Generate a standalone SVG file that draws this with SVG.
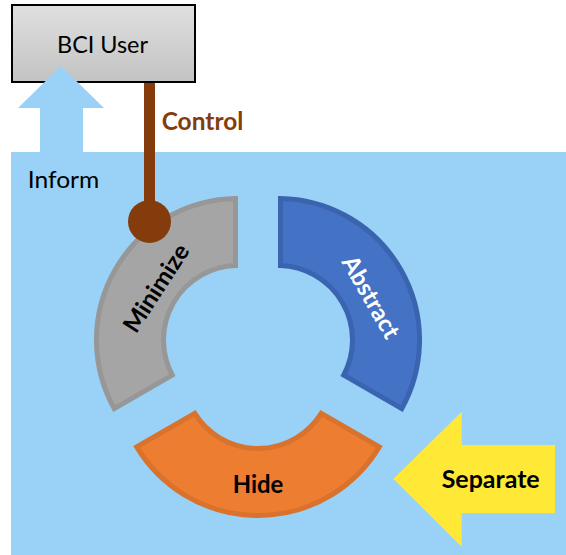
<svg xmlns="http://www.w3.org/2000/svg" width="566" height="555" viewBox="0 0 566 555">
<defs>
<linearGradient id="boxg" x1="0" y1="0" x2="0" y2="1">
<stop offset="0" stop-color="#e0e0e0"/>
<stop offset="1" stop-color="#c3c3c3"/>
</linearGradient>
<style>
.t{font-family:Lato,"Open Sans","Liberation Sans",sans-serif;font-size:24px;}
.b{font-weight:bold;}
.seg{stroke-width:5;stroke-linejoin:miter;}
</style>
</defs>
<rect id="panel" x="11" y="152" width="555" height="403" fill="#99d1f7"/>
<g id="bci-user">
<rect x="12" y="5" width="183" height="77" fill="url(#boxg)" stroke="#000" stroke-width="2"/>
<text class="t" x="57" y="52.7" textLength="91" lengthAdjust="spacingAndGlyphs" fill="#000">BCI User</text>
</g>
<g id="inform">
<polygon points="61,66 104,108 83,108 83,153 40,153 40,108 18,108" fill="#99d1f7"/>
<text class="t" x="27.7" y="187.7" textLength="71.6" lengthAdjust="spacingAndGlyphs" fill="#000">Inform</text>
</g>
<g id="minimize">
<path class="seg" d="M235.5,198.5 A141.5,141.5 0 0 0 114.23,408.58 L172.27,375.06 A74.5,74.5 0 0 1 235.5,265.54 Z" fill="#a5a5a5" stroke="#979797"/>
<g transform="translate(156,288) rotate(-57)">
<text class="t b" x="0" y="8.5" text-anchor="middle" textLength="100" lengthAdjust="spacingAndGlyphs" fill="#000">Minimize</text>
</g>
</g>
<g id="abstract">
<path class="seg" d="M280.5,198.5 A141.5,141.5 0 0 1 401.77,408.58 L343.73,375.06 A74.5,74.5 0 0 0 280.5,265.54 Z" fill="#4472c4" stroke="#3a64b0"/>
<g transform="translate(371,297) rotate(60)">
<text class="t b" x="0" y="8.5" text-anchor="middle" textLength="91" lengthAdjust="spacingAndGlyphs" fill="#fff">Abstract</text>
</g>
</g>
<g id="hide">
<path class="seg" d="M136.73,446.9 A141.5,141.5 0 0 0 379.27,446.9 L321.23,413.4 A74.5,74.5 0 0 1 194.77,413.4 Z" fill="#ed7d31" stroke="#d9722c"/>
<text class="t b" x="232.7" y="493" textLength="50.6" lengthAdjust="spacingAndGlyphs" fill="#000">Hide</text>
</g>
<g id="separate">
<polygon points="393.3,479 461.7,411.7 461.7,445 555,445 555,513.3 461.7,513.3 461.7,546.7" fill="#ffe836"/>
<text class="t b" x="441.7" y="488" textLength="98" lengthAdjust="spacingAndGlyphs" fill="#000">Separate</text>
</g>
<g id="connectors">
<rect x="144" y="83" width="11" height="130" fill="#843c0c"/>
<circle cx="149.5" cy="221.5" r="21.5" fill="#843c0c"/>
<text class="t b" x="161.7" y="130" textLength="81.6" lengthAdjust="spacingAndGlyphs" fill="#843c0c">Control</text>
</g>
</svg>
